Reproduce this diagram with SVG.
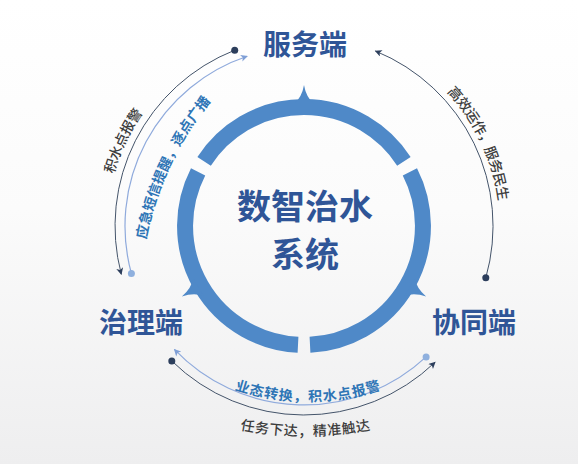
<svg xmlns="http://www.w3.org/2000/svg" width="578" height="464" viewBox="0 0 578 464">
  <defs>
    <linearGradient id="bg" x1="0" y1="0" x2="0" y2="1">
      <stop offset="0" stop-color="#ffffff"/>
      <stop offset="0.45" stop-color="#fbfbfb"/>
      <stop offset="1" stop-color="#eeeeef"/>
    </linearGradient>
    <marker id="arrDark" viewBox="0 0 10 10" refX="9" refY="5" markerWidth="9" markerHeight="7" markerUnits="userSpaceOnUse" orient="auto">
      <path d="M0,0 L10,5 L0,10 L2.5,5 Z" fill="#2c3e5c"/>
    </marker>
    <marker id="arrLight" viewBox="0 0 10 10" refX="9" refY="5" markerWidth="9" markerHeight="7" markerUnits="userSpaceOnUse" orient="auto">
      <path d="M0,0 L10,5 L0,10 L2.5,5 Z" fill="#7f9fd6"/>
    </marker>
    <path id="tp1" d="M107.7,277.8 A203,203 0 0 1 218.8,41.7"/>
    <path id="tp2" d="M145.4,376.4 A312.6,312.6 0 0 1 315.9,12.4"/>
    <path id="tp3" d="M388.6,42.6 A202,202 0 0 1 499.3,277.4"/>
    <path id="tp4" d="M162.1,342.4 A227,227 0 0 0 453.9,342.4"/>
    <path id="tp5" d="M140.5,385.8 A330,330 0 0 0 470.5,385.8"/>
  </defs>
  <style>
    .title { font-family: "Noto Sans CJK SC", "Noto Sans", sans-serif; font-weight: bold; fill: #2f5597; text-anchor: middle; }
    .ring { fill: none; stroke: #4f89c8; stroke-width: 16; }
    .tri { fill: #4f89c8; }
    .dark { fill: none; stroke: #44546a; stroke-width: 1; }
    .light { fill: none; stroke: #8faadc; stroke-width: 1.2; }
    .dotDark { fill: #2c3e5c; }
    .dotLight { fill: #8fb0de; }
    .lbl { font-family: "Noto Sans CJK SC", "Noto Sans", sans-serif; font-size: 14px; dominant-baseline: central; }
    .lblDark { fill: #3d3d3d; font-weight: 500; }
    .lblBlue { fill: #2e75b6; font-weight: bold; }
  </style>

  <rect x="0" y="0" width="578" height="464" fill="url(#bg)"/>

  <g id="core">
    <g id="ring">
      <path class="ring" d="M204.1,161.4 A119,119 0 0 1 403.9,161.4"/>
      <path class="tri" d="M294,104 Q302,97 304,85 Q306,97 314,104 Z"/>
      <g transform="rotate(120 304 226)">
        <path class="ring" d="M204.1,161.4 A119,119 0 0 1 403.9,161.4"/>
        <path class="tri" d="M294,104 Q302,97 304,85 Q306,97 314,104 Z"/>
      </g>
      <g transform="rotate(240 304 226)">
        <path class="ring" d="M204.1,161.4 A119,119 0 0 1 403.9,161.4"/>
        <path class="tri" d="M294,104 Q302,97 304,85 Q306,97 314,104 Z"/>
      </g>
    </g>
    <text class="title" x="305" y="219" font-size="34">数智治水</text>
    <text class="title" x="305" y="267" font-size="34">系统</text>
  </g>

  <g id="node-service">
    <text class="title" x="305" y="55" font-size="28">服务端</text>
  </g>
  <g id="node-govern">
    <text class="title" x="141" y="333" font-size="28">治理端</text>
  </g>
  <g id="node-collab">
    <text class="title" x="474" y="333" font-size="28">协同端</text>
  </g>

  <g id="connectors">
    <path class="dark" d="M234.7,50.2 A189,189 0 0 0 121.3,274.3" marker-end="url(#arrDark)"/>
    <circle class="dotDark" cx="234.7" cy="50.2" r="3.5"/>
    <path class="light" d="M131.4,273.5 A179,179 0 0 1 247.2,56.3" marker-end="url(#arrLight)"/>
    <circle class="dotLight" cx="131.4" cy="273.5" r="3.5"/>
    <path class="dark" d="M485.8,277.8 A189,189 0 0 0 375.4,51.0" marker-end="url(#arrDark)"/>
    <circle class="dotDark" cx="485.8" cy="277.8" r="3.5"/>
    <path class="dark" d="M171.8,361.0 A189,189 0 0 0 435.1,362.2" marker-end="url(#arrDark)"/>
    <circle class="dotDark" cx="171.8" cy="361.0" r="3.5"/>
    <path class="light" d="M426.1,356.9 A179,179 0 0 1 174.4,349.4" marker-end="url(#arrLight)"/>
    <circle class="dotLight" cx="426.1" cy="356.9" r="3.5"/>
  </g>

  <g id="connector-labels">
    <text class="lbl lblDark"><textPath href="#tp1" startOffset="50%" text-anchor="middle">积水点报警</textPath></text>
    <text class="lbl lblBlue" letter-spacing="0.3"><textPath href="#tp2" startOffset="50%" text-anchor="middle">应急短信提醒，逐点广播</textPath></text>
    <text class="lbl lblDark"><textPath href="#tp3" startOffset="50%" text-anchor="middle">高效运作，服务民生</textPath></text>
    <text class="lbl lblBlue" letter-spacing="0.6"><textPath href="#tp4" startOffset="50%" text-anchor="middle">业态转换，积水点报警</textPath></text>
    <text class="lbl lblDark" letter-spacing="0.4"><textPath href="#tp5" startOffset="50%" text-anchor="middle">任务下达，精准触达</textPath></text>
  </g>
</svg>
